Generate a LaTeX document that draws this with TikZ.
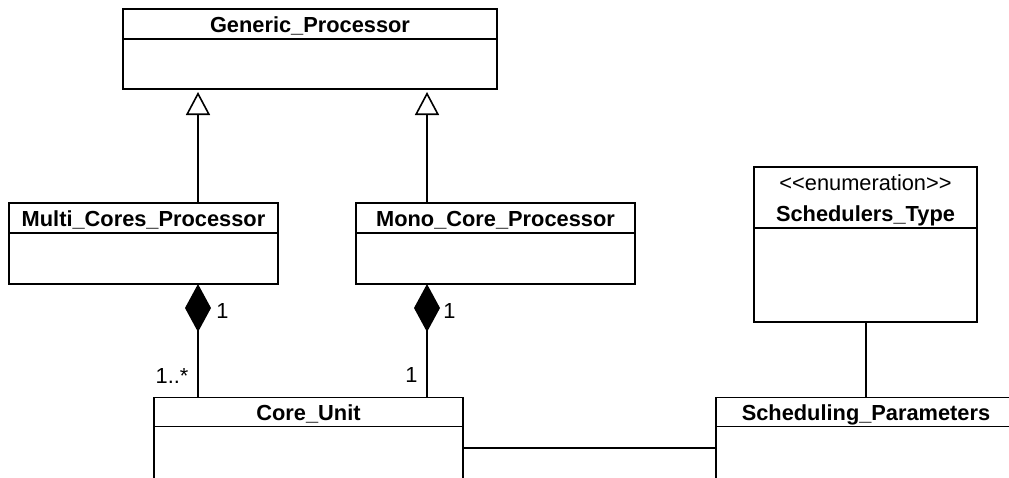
\documentclass[tikz,border=0pt]{standalone}
\usepackage{fontspec}
\setmainfont{Liberation Sans}
\usetikzlibrary{arrows.meta}

\begin{document}
\begin{tikzpicture}[x=1pt,y=-1pt,line width=1.6pt,
        every node/.style={font=\fontsize{21.8}{26}\selectfont},
        head/.style={draw,anchor=north west,minimum height=30pt,inner sep=0pt,outer sep=0pt,
            text height=17.5pt,text depth=0pt,font=\fontsize{21.8}{26}\selectfont\bfseries},
        body/.style={draw,anchor=north west,inner sep=0pt,outer sep=0pt},
        inherit/.style={-{Triangle[open,length=23pt,width=24pt]},shorten >=3pt},
        compose/.style={-{Diamond[length=48pt,width=26pt]}}]
        \useasboundingbox (0,0) rectangle (1009,477);

        % classes
        \node[head,minimum width=374pt] (gph) at (123,9) {Generic\_Processor};
        \node[body,minimum width=374pt,minimum height=50pt] (gpb) at (gph.south west) {};
        \node[head,minimum width=269pt] (mch) at (9,203) {Multi\_Cores\_Processor};
        \node[body,minimum width=269pt,minimum height=51pt] (mcb) at (mch.south west) {};
        \node[head,minimum width=279pt] (moh) at (356,203) {Mono\_Core\_Processor};
        \node[body,minimum width=279pt,minimum height=51pt] (mob) at (moh.south west) {};
        \node[head,minimum width=223pt,minimum height=61pt] (sth) at (754,167) {};
        \node[body,minimum width=223pt,minimum height=94pt] (stb) at (sth.south west) {};
        \node[head,minimum width=309pt,minimum height=29pt] (cuh) at (154,397.5) {Core\_Unit};
        \node[body,minimum width=309pt,minimum height=80pt] (cub) at (cuh.south west) {};
        \node[head,minimum width=300pt,minimum height=29pt] (sph) at (716,397.5) {Scheduling\_Parameters};
        \node[body,minimum width=300pt,minimum height=80pt] (spb) at (sph.south west) {};

        \node[anchor=base] (ste) at (sth.center |- 0,190.5) {<{}<enumeration>{}>};
        \node[anchor=base,font=\fontsize{21.8}{26}\selectfont\bfseries] (stn) at (sth.center |- 0,221) {Schedulers\_Type};

        % connectors
        \coordinate (ga) at (198,0);
        \coordinate (gb) at (427,0);
        \coordinate (gc) at (866,0);
        \coordinate (lnk) at (0,448);
        \draw[inherit] (mch.north -| ga) -- (gpb.south -| ga);
        \draw[inherit] (moh.north -| gb) -- (gpb.south -| gb);
        \draw[compose] (cuh.north -| ga) -- (mcb.south -| ga);
        \draw[compose] (cuh.north -| gb) -- (mob.south -| gb);
        \draw (stb.south -| gc) -- (sph.north -| gc);
        \draw (cub.east |- lnk) -- (spb.west |- lnk);

        % multiplicities
        \node (m1) at (222.5,311) {1};
        \node (m2) at (449.5,311) {1};
        \node (m3) at (172,375.5) {1..*};
        \node (m4) at (411.5,375) {1};
    \end{tikzpicture}
\end{document}
